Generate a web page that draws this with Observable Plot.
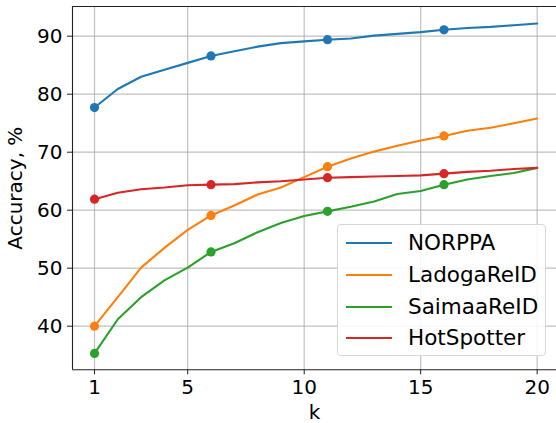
<!DOCTYPE html>
<html>
<head>
<meta charset="utf-8">
<script src="https://cdn.jsdelivr.net/npm/d3@7"></script>
<script src="https://cdn.jsdelivr.net/npm/@observablehq/plot@0.6"></script>
<style>
  html, body { margin: 0; padding: 0; background: #fff; }
  #wrap { position: relative; width: 556px; height: 423px; font-family: "DejaVu Sans", sans-serif; }
  #legend {
    position: absolute; left: 337px; top: 224px; width: 209px; height: 132px;
    box-sizing: border-box; border: 1px solid #d6d6d6; border-radius: 4px;
    background: rgba(255,255,255,0.85);
  }
  .item { position: absolute; left: 0; height: 0; }
  .item .sw { position: absolute; left: 8px; width: 46px; height: 0; border-top: 2.1px solid; top: -1px; }
  .item .lb { position: absolute; left: 70px; top: -13px; font-size: 21.5px; line-height: 26px; white-space: nowrap; color: #000; }
</style>
</head>
<body>
<div id="wrap"><div id="chart"></div><div id="legend"></div></div>
<script>
const kValues = [1,2,3,4,5,6,7,8,9,10,11,12,13,14,15,16,17,18,19,20];
const seriesNames = ["NORPPA", "LadogaReID", "SaimaaReID", "HotSpotter"];
const seriesColors = ["#1f77b4", "#ff7f0e", "#2ca02c", "#d62728"];
const norppa = [77.7, 80.9, 83.0, 84.2, 85.4, 86.6, 87.4, 88.2, 88.8, 89.1, 89.4, 89.6, 90.1, 90.4, 90.7, 91.1, 91.4, 91.6, 91.9, 92.2];
const ladoga = [40.0, 45.0, 50.1, 53.5, 56.6, 59.1, 60.8, 62.7, 63.9, 65.7, 67.5, 68.9, 70.1, 71.1, 72.0, 72.8, 73.7, 74.2, 75.0, 75.8];
const saimaa = [35.3, 41.2, 45.0, 47.9, 50.1, 52.8, 54.3, 56.2, 57.8, 59.0, 59.8, 60.6, 61.5, 62.8, 63.3, 64.4, 65.3, 65.9, 66.4, 67.3];
const hotspotter = [61.9, 63.0, 63.6, 63.9, 64.3, 64.4, 64.5, 64.8, 65.0, 65.3, 65.6, 65.7, 65.8, 65.9, 66.0, 66.3, 66.6, 66.8, 67.1, 67.3];
const markerKs = [1, 6, 11, 16];
const xTicks = [1, 5, 10, 15, 20];
const yTicks = [40, 50, 60, 70, 80, 90];
const xDomain = [0.055, 20.83];
const yDomain = [32.48, 95.12];

const seriesValues = [norppa, ladoga, saimaa, hotspotter];
const data = [];
seriesNames.forEach((name, i) => {
  kValues.forEach((k, j) => data.push({series: name, k, acc: seriesValues[i][j]}));
});
const markerData = data.filter(d => markerKs.includes(d.k));

const chart = Plot.plot({
  width: 556,
  height: 423,
  marginLeft: 72,
  marginRight: 0,
  marginTop: 6,
  marginBottom: 53.7,
  style: {fontFamily: "DejaVu Sans, sans-serif", fontSize: "20px", color: "#000", background: "#fff"},
  x: {domain: xDomain, ticks: xTicks},
  y: {domain: yDomain, ticks: yTicks},
  color: {domain: seriesNames, range: seriesColors},
  marks: [
    Plot.gridX(xTicks, {stroke: "#b0b0b0", strokeOpacity: 0.8, strokeWidth: 1.2}),
    Plot.gridY(yTicks, {stroke: "#b0b0b0", strokeOpacity: 0.8, strokeWidth: 1.2}),
    Plot.axisX(xTicks, {tickSize: 5, tickPadding: 5, fontSize: 20, label: "k", labelAnchor: "center", labelOffset: 49, labelArrow: "none", stroke: "#222"}),
    Plot.axisY(yTicks, {tickSize: 5, tickPadding: 5, fontSize: 20, label: "Accuracy, %", labelAnchor: "center", labelOffset: 65, labelArrow: "none", stroke: "#222"}),
    Plot.ruleX([xDomain[0]], {stroke: "#222", strokeWidth: 1.1}),
    Plot.ruleY([yDomain[0]], {stroke: "#222", strokeWidth: 1.1}),
    Plot.ruleY([yDomain[1]], {stroke: "#222", strokeWidth: 1.1}),
    Plot.line(data, {x: "k", y: "acc", z: "series", stroke: "series", strokeWidth: 2.1}),
    Plot.dot(markerData, {x: "k", y: "acc", fill: "series", r: 4.6})
  ]
});
document.getElementById("chart").appendChild(chart);

const legend = document.getElementById("legend");
seriesNames.forEach((name, i) => {
  const item = document.createElement("div");
  item.className = "item";
  item.style.top = (17.7 + i * 31.9) + "px";
  item.innerHTML = `<div class="sw" style="border-top-color:${seriesColors[i]}"></div><div class="lb">${name}</div>`;
  legend.appendChild(item);
});
</script>
</body>
</html>
